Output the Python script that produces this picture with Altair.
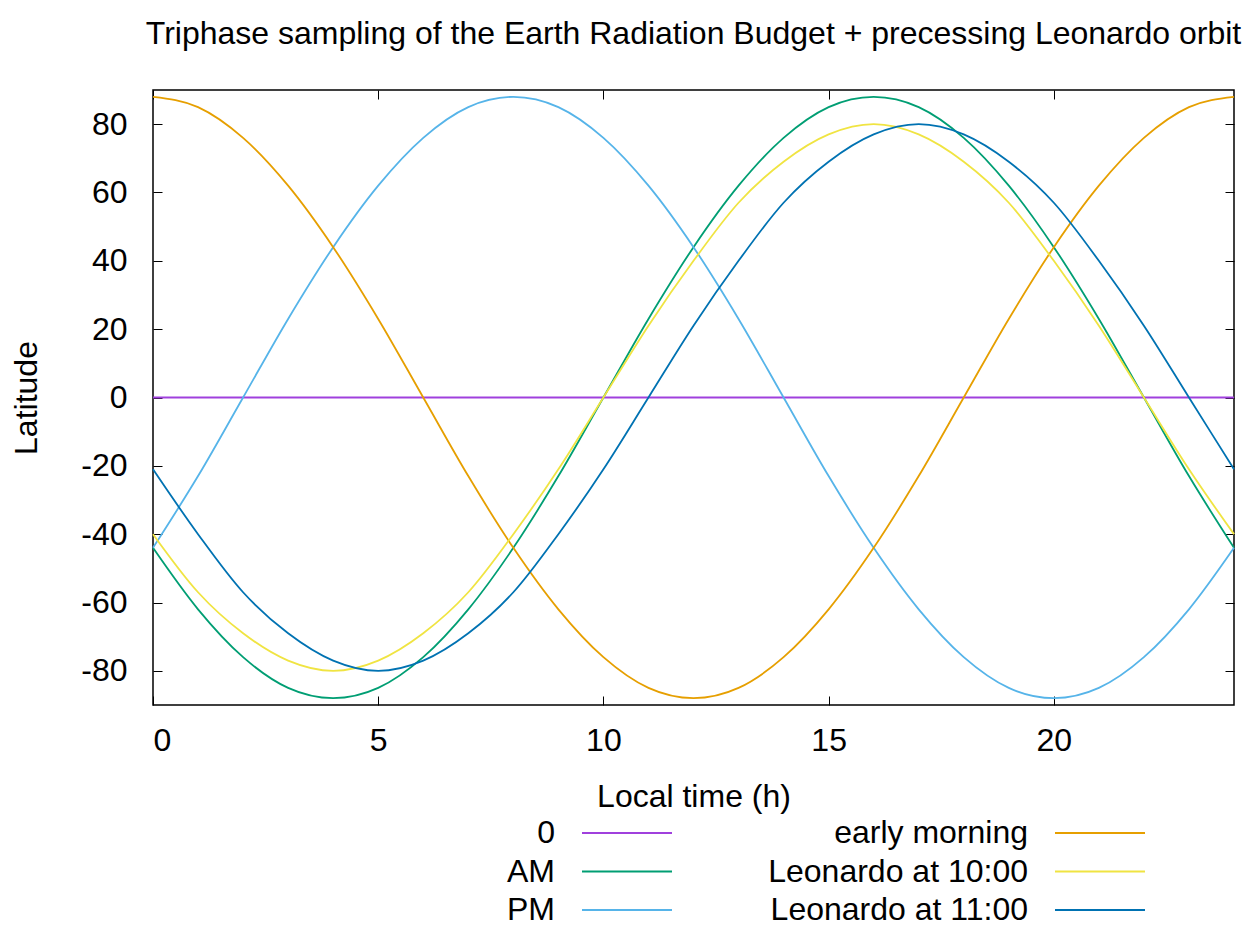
import altair as alt
import pandas as pd

# Latitude sampled each local hour for every orbit
hours = list(range(25))
zero_hours = [0, 24]
zero_lat = [0, 0]
am = [-44, -62, -76, -85, -88, -85, -76, -62, -44, -23, 0, 23, 44, 62, 76, 85, 88, 85, 76, 62, 44, 23, 0, -23, -44]
pm = [-44, -23, 0, 23, 44, 62, 76, 85, 88, 85, 76, 62, 44, 23, 0, -23, -44, -62, -76, -85, -88, -85, -76, -62, -44]
early = [88, 85, 76, 62, 44, 23, 0, -23, -44, -62, -76, -85, -88, -85, -76, -62, -44, -23, 0, 23, 44, 62, 76, 85, 88]
leo10 = [-40, -57, -69, -77, -80, -77, -69, -57, -40, -21, 0, 21, 40, 57, 69, 77, 80, 77, 69, 57, 40, 21, 0, -21, -40]
leo11 = [-21, -40, -57, -69, -77, -80, -77, -69, -57, -40, -21, 0, 21, 40, 57, 69, 77, 80, 77, 69, 57, 40, 21, 0, -21]

series_names = ["0", "AM", "PM", "early morning", "Leonardo at 10:00", "Leonardo at 11:00"]
colors = ["#a040dd", "#009e73", "#56b4e9", "#e69f00", "#f0e442", "#0072b2"]
legend_col = [0, 0, 0, 1, 1, 1]
legend_row = [0, 1, 2, 0, 1, 2]
x_ticks = [0, 5, 10, 15, 20]
y_ticks = [-80, -60, -40, -20, 0, 20, 40, 60, 80]

FONT = "Liberation Sans"
FS = 32
LW = 1.8
PLOT_W, PLOT_H = 1081, 615

zero_df = pd.DataFrame({"hour": zero_hours, "lat": zero_lat, "series": "0"})
curves = []
for name, vals in zip(series_names[1:], [am, pm, early, leo10, leo11]):
    curves.append(pd.DataFrame({"hour": hours, "lat": vals, "series": name}))
curve_df = pd.concat(curves, ignore_index=True)

x_scale = alt.Scale(domain=[0, 24], nice=False, zero=False)
y_scale = alt.Scale(domain=[-90, 90], nice=False, zero=False)
color = alt.Color("series:N", scale=alt.Scale(domain=series_names, range=colors), legend=None)

# inward ticks: axes pulled inside the frame by the tick length
tick_style = dict(offset=-9, tickSize=9, tickWidth=1, tickColor="black", domain=False, grid=False,
                  labelFont=FONT, labelFontSize=FS, labelColor="black",
                  labelExpr="datum.value + ''",
                  titleFont=FONT, titleFontSize=FS, titleColor="black", titleFontWeight="normal")

zero_line = alt.Chart(zero_df).mark_line(strokeWidth=LW).encode(
    x=alt.X("hour:Q", scale=x_scale,
            axis=alt.Axis(orient="top", values=x_ticks, labels=False, title="", **tick_style)),
    y=alt.Y("lat:Q", scale=y_scale,
            axis=alt.Axis(orient="right", values=y_ticks, labels=False, title="", **tick_style)),
    color=color,
)

lines = alt.Chart(curve_df).mark_line(strokeWidth=LW, interpolate="monotone").encode(
    x=alt.X("hour:Q", scale=x_scale,
            axis=alt.Axis(orient="bottom", values=x_ticks, title="Local time (h)",
                          labelPadding=20, titlePadding=25, **tick_style)),
    y=alt.Y("lat:Q", scale=y_scale,
            axis=alt.Axis(orient="left", values=y_ticks, title="Latitude",
                          labelPadding=26, titlePadding=37, **tick_style)),
    color=color,
)

main = alt.layer(zero_line, lines).resolve_axis(x="independent", y="independent").properties(
    width=PLOT_W,
    height=PLOT_H,
    view=alt.ViewBackground(stroke="black", strokeWidth=1.5),
    title=alt.TitleParams(
        "Triphase sampling of the Earth Radiation Budget + precessing Leonardo orbit",
        font=FONT, fontSize=FS, fontWeight="normal", color="black",
        anchor="middle", frame="group", offset=39,
    ),
)

# key below the plot: label on the left, line sample on the right
leg_df = pd.DataFrame({"series": series_names, "col": legend_col, "row": legend_row})
leg_base = alt.Chart(leg_df).encode(
    x=alt.X("col:Q", scale=alt.Scale(domain=[0, 1], range=[402, 875]), axis=None),
    y=alt.Y("row:Q", scale=alt.Scale(domain=[0, 2], range=[19, 96]), axis=None),
)
leg_lines = leg_base.mark_rule(strokeWidth=LW, xOffset=27, x2Offset=117).encode(
    x2="col:Q", color=color
)
leg_text = leg_base.mark_text(align="right", baseline="middle", font=FONT, fontSize=FS,
                              color="black").encode(text="series:N")
key = alt.layer(leg_lines, leg_text).properties(width=PLOT_W, height=96)

chart = alt.vconcat(main, key, spacing=0).properties(
    background="white", padding={"left": 10, "top": 16, "right": 5, "bottom": 0}
).configure_view(stroke="transparent")

chart.save("out.html", embed_options={"renderer": "svg", "actions": False})
